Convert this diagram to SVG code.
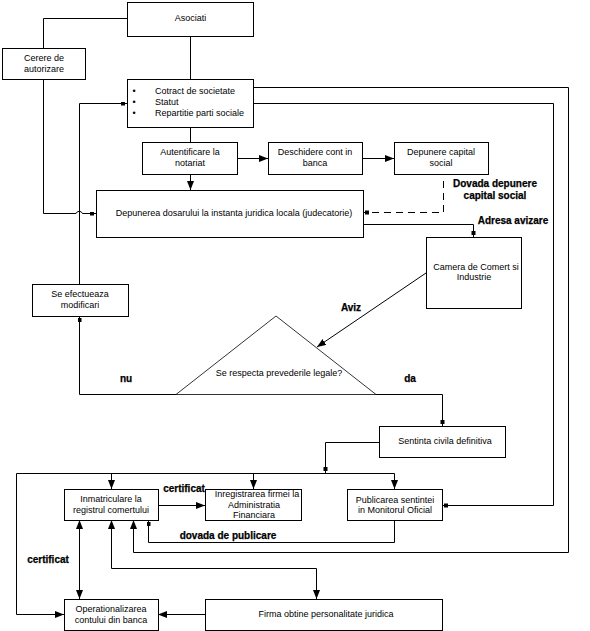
<svg xmlns="http://www.w3.org/2000/svg" width="590" height="631" viewBox="0 0 590 631">
<style>
.b{fill:#fff;stroke:#000;stroke-width:1}
.t{font-family:"Liberation Sans",Arial,sans-serif;font-size:9px;fill:#000;text-anchor:middle}
.ts{font-family:"Liberation Sans",Arial,sans-serif;font-size:9px;fill:#000;text-anchor:start}
.l{font-family:"Liberation Sans",Arial,sans-serif;font-size:10px;font-weight:bold;fill:#000;text-anchor:middle;stroke:#000;stroke-width:0.25}
.c{fill:none;stroke:#000;stroke-width:1}
.a{marker-end:url(#arr)}
.s{marker-end:url(#sm)}
</style>
<defs>
<marker id="arr" markerUnits="userSpaceOnUse" markerWidth="10" markerHeight="8" refX="9" refY="3.5" orient="auto-start-reverse">
<path d="M0,0 L9,3.5 L0,7 z" fill="#000"/>
</marker>
<marker id="sm" markerUnits="userSpaceOnUse" markerWidth="8" markerHeight="6" refX="6" refY="2" orient="auto">
<rect x="0" y="0" width="4" height="4" fill="#000"/>
</marker>
</defs>
<rect width="590" height="631" fill="#fff"/>
<g id="connectors">
<path class="c" d="M127.5,18.5 H43.5 V48"/>
<path class="c" d="M190.5,36 V79"/>
<path class="c" d="M190.5,127 V142"/>
<path class="c a" d="M190.5,174 V190"/>
<path class="c a" d="M237,158.5 H268"/>
<path class="c a" d="M362,158.5 H394"/>
<path class="c s" d="M43.5,79 V213.5 H76 A3.5,3.5 0 0 1 82.5,213.5 H96"/>
<path class="c s" d="M79.5,284 V103.5 H127"/>
<path class="c s" d="M443.5,181 V212.5 H363" stroke-dasharray="7,5"/>
<path class="c s" d="M363,224.5 H473.5 V237"/>
<path class="c a" d="M426,273 L317,347" stroke-width="0.8"/>
<path class="c s" d="M176,394.5 H79.5 V316"/>
<path class="c s" d="M376,394.5 H442.5 V426"/>
<path class="c s" d="M379,442.5 H325.5 V473"/>
<path class="c a" d="M16.5,473.5 H394.5 V489"/>
<path class="c a" d="M253.5,473.5 V489"/>
<path class="c a" d="M111.5,473.5 V489"/>
<path class="c a" d="M16.5,473.5 V614.5 H64"/>
<path class="c a" d="M158,505.5 H205"/>
<path class="c s" d="M394.5,520 V542.5 H148.5 V520"/>
<path class="c a" d="M253,87.5 H568.5 V552.5 H133.5 V520"/>
<path class="c s" d="M253,103.5 H553.5 V505.5 H442"/>
<path class="c a" d="M111.5,520 V568.5 H316.5 V599" marker-start="url(#arr)"/>
<path class="c a" d="M79.5,520 V599" marker-start="url(#arr)"/>
<path class="c a" d="M205,614.5 H158"/>
</g>
<g id="labels">
<text class="l" x="495" y="186.5">Dovada depunere</text>
<text class="l" x="495" y="198.5">capital social</text>
<text class="l" x="513" y="223.5">Adresa avizare</text>
<text class="l" x="351" y="311">Aviz</text>
<text class="l" x="410" y="382">da</text>
<text class="l" x="126" y="382">nu</text>
<text class="l" x="184" y="491.5">certificat</text>
<text class="l" x="228" y="538.5">dovada de publicare</text>
<text class="l" x="48" y="562.5">certificat</text>
</g>
<g id="asociati">
<rect class="b" x="127.5" y="2.5" width="126" height="34"/>
<text class="t" x="190.5" y="21">Asociati</text>
</g>
<g id="cerere">
<rect class="b" x="2.5" y="48.5" width="83" height="31"/>
<text class="t" x="44" y="61">Cerere de</text>
<text class="t" x="44" y="72">autorizare</text>
</g>
<g id="contract">
<rect class="b" x="127.5" y="79.5" width="126" height="48"/>
<text class="t" x="134" y="94">•</text>
<text class="t" x="134" y="105">•</text>
<text class="t" x="134" y="116">•</text>
<text class="ts" x="155" y="94">Cotract de societate</text>
<text class="ts" x="155" y="105">Statut</text>
<text class="ts" x="155" y="116">Repartitie parti sociale</text>
</g>
<g id="autentificare">
<rect class="b" x="142.5" y="142.5" width="95" height="32"/>
<text class="t" x="190" y="155">Autentificare la</text>
<text class="t" x="190" y="166">notariat</text>
</g>
<g id="deschidere">
<rect class="b" x="268.5" y="142.5" width="94" height="32"/>
<text class="t" x="315" y="155">Deschidere cont in</text>
<text class="t" x="315" y="166">banca</text>
</g>
<g id="depunere-capital">
<rect class="b" x="394.5" y="142.5" width="94" height="32"/>
<text class="t" x="441" y="155">Depunere capital</text>
<text class="t" x="441" y="166">social</text>
</g>
<g id="depunerea-dosarului">
<rect class="b" x="96.5" y="190.5" width="267" height="47"/>
<text class="t" x="234" y="216">Depunerea dosarului la instanta juridica locala (judecatorie)</text>
</g>
<g id="camera">
<rect class="b" x="426.5" y="237.5" width="95" height="71"/>
<text class="t" x="476" y="270">Camera de Comert si</text>
<text class="t" x="474" y="280">Industrie</text>
</g>
<g id="se-efectueaza">
<rect class="b" x="32.5" y="284.5" width="96" height="32"/>
<text class="t" x="80" y="297">Se efectueaza</text>
<text class="t" x="80" y="308">modificari</text>
</g>
<g id="decizie">
<polygon points="276,316 176,394.5 376,394.5" fill="#fff" stroke="#000" stroke-width="0.8"/>
<text class="t" x="279" y="376">Se respecta prevederile legale?</text>
</g>
<g id="sentinta">
<rect class="b" x="379.5" y="426.5" width="126" height="31"/>
<text class="t" x="445" y="444">Sentinta civila definitiva</text>
</g>
<g id="inmatriculare">
<rect class="b" x="64.5" y="489.5" width="94" height="31"/>
<text class="t" x="111" y="502">Inmatriculare la</text>
<text class="t" x="111" y="513">registrul comertului</text>
</g>
<g id="inregistrarea">
<rect class="b" x="205.5" y="489.5" width="96" height="31"/>
<text class="t" x="257" y="497">Inregistrarea firmei la</text>
<text class="t" x="254" y="507.5">Administratia</text>
<text class="t" x="254" y="518">Financiara</text>
</g>
<g id="publicarea">
<rect class="b" x="347.5" y="489.5" width="95" height="31"/>
<text class="t" x="395" y="503">Publicarea sentintei</text>
<text class="t" x="395" y="513">in Monitorul Oficial</text>
</g>
<g id="operationalizarea">
<rect class="b" x="64.5" y="599.5" width="94" height="31"/>
<text class="t" x="111" y="612">Operationalizarea</text>
<text class="t" x="111" y="623">contului din banca</text>
</g>
<g id="firma">
<rect class="b" x="205.5" y="599.5" width="237" height="31"/>
<text class="t" x="326" y="617">Firma obtine personalitate juridica</text>
</g>
</svg>
